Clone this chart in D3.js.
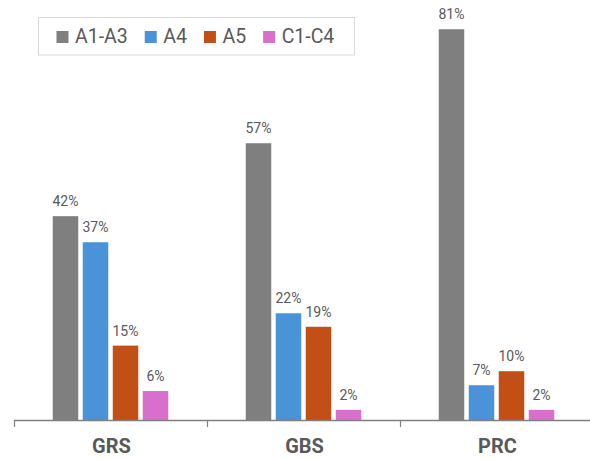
<!DOCTYPE html>
<html><head><meta charset="utf-8">
<script src="https://cdn.jsdelivr.net/npm/d3@7"></script>
<style>html,body{margin:0;padding:0;background:#fff;}svg{display:block;}</style>
</head><body>
<script>
const categories = ["GRS", "GBS", "PRC"];
const seriesNames = ["A1-A3", "A4", "A5", "C1-C4"];
const seriesColors = ["#7f7f7f", "#4a93d8", "#c24f15", "#d86fcc"];
const a1a3 = [42.2, 57.3, 80.9];
const a4 = [36.8, 22.1, 7.2];
const a5 = [15.4, 19.3, 10.1];
const c1c4 = [6.0, 2.1, 2.1];
const seriesValues = [a1a3, a4, a5, c1c4];

const W = 590, H = 459;
const svg = d3.select("body").append("svg").attr("width", W).attr("height", H);
const font = "Roboto, 'Liberation Sans', Arial, sans-serif";
const textColor = "#595959";

const baseY = 420;
const x0 = d3.scaleBand().domain(categories).range([14, 593]).padding(0);
const groupW = 115.5;
const off = (x0.bandwidth() - groupW) / 2;
const x1 = d3.scaleBand().domain(seriesNames).range([off, off + groupW]).paddingInner(0.15).paddingOuter(0);
const y = d3.scaleLinear().domain([0, 100]).range([baseY, baseY - 483]);

const fmt = d3.format(".0f");
const data = [];
categories.forEach((c, ci) => {
  seriesNames.forEach((s, si) => {
    data.push({cat: c, s: s, si: si, v: seriesValues[si][ci]});
  });
});

const g = svg.append("g");
g.selectAll("rect.bar").data(data).join("rect")
  .attr("class", "bar")
  .attr("x", d => x0(d.cat) + x1(d.s))
  .attr("y", d => y(d.v))
  .attr("width", x1.bandwidth())
  .attr("height", d => baseY - y(d.v))
  .attr("fill", d => seriesColors[d.si]);

g.selectAll("text.lbl").data(data).join("text")
  .attr("class", "lbl")
  .attr("x", d => x0(d.cat) + x1(d.s) + x1.bandwidth() / 2)
  .attr("y", d => y(d.v) - 10)
  .attr("text-anchor", "middle")
  .attr("font-family", font)
  .attr("font-size", 14)
  .attr("fill", textColor)
  .text(d => fmt(d.v) + "%");

// x axis
const axis = svg.append("g").attr("transform", `translate(0,${baseY})`)
  .call(d3.axisBottom(x0).tickSize(0).tickPadding(0).tickFormat(""));
axis.select(".domain").remove();
axis.append("line").attr("x1", 14).attr("x2", W).attr("y1", 0.5).attr("y2", 0.5)
  .attr("stroke", "#7f7f7f").attr("stroke-width", 1.5);
const tickPos = categories.map(c => x0(c)).concat([x0.range()[1]]);
axis.selectAll("line.tk").data(tickPos).join("line").attr("class", "tk")
  .attr("x1", d => d + 0.5).attr("x2", d => d + 0.5)
  .attr("y1", 0).attr("y2", 7)
  .attr("stroke", "#7f7f7f").attr("stroke-width", 1.2);
axis.selectAll("text.cat").data(categories).join("text").attr("class", "cat")
  .attr("x", d => x0(d) + x0.bandwidth() / 2 + 1)
  .attr("y", 32.7)
  .attr("text-anchor", "middle")
  .attr("font-family", font)
  .attr("font-weight", "bold")
  .attr("font-size", 20)
  .attr("fill", textColor)
  .text(d => d);

// legend
const lg = svg.append("g");
lg.append("rect").attr("x", 38.5).attr("y", 17.5).attr("width", 316).attr("height", 37.5)
  .attr("fill", "#fff").attr("stroke", "#d9d9d9").attr("stroke-width", 1);
let lx = 56.5;
seriesNames.forEach((s, i) => {
  lg.append("rect").attr("x", lx).attr("y", 31).attr("width", 12).attr("height", 12)
    .attr("fill", seriesColors[i]);
  const t = lg.append("text").attr("x", lx + 18.5).attr("y", 43.3)
    .attr("font-family", font).attr("font-size", 19.5).attr("fill", textColor).text(s);
  lx = lx + 18.5 + t.node().getComputedTextLength() + 17;
});
</script>
</body></html>
